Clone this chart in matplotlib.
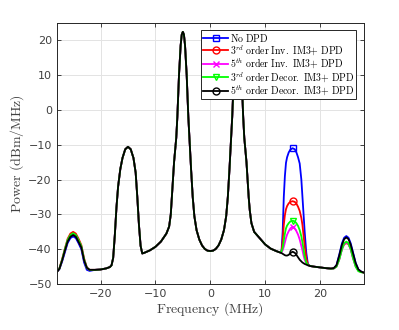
import matplotlib
matplotlib.use("Agg")
import matplotlib.pyplot as plt
import numpy as np

plt.rcParams['mathtext.fontset'] = 'cm'

# ---- data ----
freq_left = [-28, -27.5, -27, -26.5, -26, -25.5, -25, -24.5, -24, -23.5, -23, -22.5, -22]
freq_mid = [-21, -20, -19, -18.3, -18, -17.7, -17.4, -17.1, -16.8, -16.4, -16, -15.5, -15,
            -14.5, -14, -13.6, -13.3, -13, -12.7, -12.4, -12, -11, -10, -9, -8, -7.5, -7.2,
            -7, -6.6, -6.2, -6.0, -5.7, -5.4, -5.2, -5, -4.8, -4.6, -4.3, -4.0, -3.8, -3.5,
            -3.2, -2.9, -2.5, -2, -1.5, -1, -0.5, 0, 0.5, 1, 1.5, 2, 2.5, 2.9, 3.2, 3.5, 3.8,
            4.0, 4.3, 4.6, 4.8, 5, 5.2, 5.4, 5.7, 6.0, 6.2, 6.6, 7, 7.2, 7.5, 8, 9, 10, 11,
            12, 12.5]
power_mid = [-45.9, -45.8, -45.5, -45.1, -44.6, -42.5, -36, -28, -22, -17, -13.8, -11.3, -10.6,
             -11.3, -13.8, -18, -25, -33, -39, -41.2, -41.0, -40.3, -39.3, -37.8, -35.5, -33.5, -30,
             -25, -15, -8, -2, 10, 18.5, 21.6, 22.4, 21.6, 18.5, 10, -2, -8, -17,
             -25, -30.5, -34.5, -37.2, -38.9, -39.9, -40.4, -40.5, -40.4, -39.9, -38.9, -37.2, -34.5, -30.5, -25, -17, -8,
             -2, 10, 18.5, 21.6, 22.4, 21.6, 18.5, 10, -2, -8, -15, -25, -28.8, -32.5, -35.0, -36.8, -38.6, -39.8,
             -40.5, -40.8]
freq_im3 = [12.8, 13.0, 13.2, 13.4, 13.6, 13.8, 14.0, 14.3, 14.6, 15.0, 15.4, 15.7, 16.0, 16.3,
            16.6, 16.8, 17.0, 17.2, 17.5, 17.8]
freq_mid2 = [18.2, 19, 20, 21]
power_mid2 = [-44.8, -45.0, -45.2, -45.4]
freq_right = [22, 22.5, 23, 23.5, 24, 24.4, 24.8, 25.2, 25.6, 26.0, 26.5, 27, 27.5, 28]

labels = [r'$\mathrm{No\ DPD}$',
          r'$3^{rd}\mathrm{\ order\ Inv.\ IM3{+}\ DPD}$',
          r'$5^{th}\mathrm{\ order\ Inv.\ IM3{+}\ DPD}$',
          r'$3^{rd}\mathrm{\ order\ Decor.\ IM3{+}\ DPD}$',
          r'$5^{th}\mathrm{\ order\ Decor.\ IM3{+}\ DPD}$']

nodpd_left = [-46.6, -45.7, -43.5, -40.8, -38.2, -36.8, -36.3, -36.8, -38.3, -40.0, -43.8, -45.9, -46.2]
nodpd_im3 = [-40.9, -40.3, -34.8, -25, -19, -15.2, -13.6, -12.2, -11.4, -11.0, -11.3, -12.2, -13.6,
             -15.4, -20, -25, -30, -34.8, -41, -44.3]
nodpd_right = [-45.6, -45.5, -44.6, -41.6, -38.3, -36.7, -36.2, -36.7, -38.3, -40.8, -43.9, -45.8, -46.4, -46.7]

inv3_left = [-46.6, -45.5, -42.8, -39.8, -37.0, -35.5, -35.0, -35.5, -37.0, -38.8, -42.6, -45.2, -45.9]
inv3_im3 = [-40.9, -40.4, -37.5, -33, -30.2, -28.5, -27.6, -26.8, -26.4, -26.2, -26.4, -26.9, -27.8,
            -29, -31, -33, -36, -39, -42.5, -44.4]
inv3_right = [-45.6, -45.5, -44.9, -42.8, -39.8, -38.6, -38.2, -38.6, -39.8, -42.2, -44.7, -46.1, -46.5, -46.7]

inv5_left = [-46.6, -45.5, -43.1, -40.2, -37.5, -36.1, -35.6, -36.1, -37.6, -39.3, -43.0, -45.3, -45.9]
inv5_im3 = [-40.9, -40.8, -40.3, -39.3, -38, -36.8, -35.8, -34.8, -34, -33.5, -34, -34.8, -35.8,
            -37.2, -39, -40.3, -41.8, -43, -44, -44.6]
inv5_right = [-45.6, -45.5, -45.0, -43.0, -40.1, -38.5, -38.0, -38.5, -40.1, -42.5, -44.9, -46.2, -46.5, -46.7]

dec3_left = [-46.6, -45.5, -43.0, -40.0, -37.3, -35.9, -35.4, -35.9, -37.4, -39.1, -42.9, -45.3, -45.9]
dec3_im3 = [-40.9, -40.6, -39.5, -37.5, -35.5, -34, -33.2, -32.5, -32.0, -31.8, -32.0, -32.5, -33.3,
            -34.5, -36.3, -38, -40, -42, -43.8, -44.5]
dec3_right = [-45.6, -45.5, -45.0, -43.0, -40.0, -38.3, -37.8, -38.3, -40.0, -42.4, -45.0, -46.3, -46.6, -46.7]

dec5_left = [-46.6, -45.6, -43.2, -40.4, -37.8, -36.4, -35.9, -36.4, -37.9, -39.5, -43.2, -45.3, -45.9]
dec5_im3 = [-41.0, -41.1, -41.3, -41.5, -41.7, -41.8, -41.8, -41.6, -41.1, -40.7, -41.0, -41.6, -42.3,
            -43.0, -43.5, -43.8, -44.0, -44.2, -44.4, -44.6]
dec5_right = [-45.5, -45.4, -44.6, -41.9, -38.7, -37.1, -36.6, -37.1, -38.7, -41.1, -44, -45.8, -46.4, -46.7]

series = [
    (nodpd_left, nodpd_im3, nodpd_right, 'blue', 's'),
    (inv3_left, inv3_im3, inv3_right, 'red', 'o'),
    (inv5_left, inv5_im3, inv5_right, 'magenta', 'x'),
    (dec3_left, dec3_im3, dec3_right, 'lime', 'v'),
    (dec5_left, dec5_im3, dec5_right, 'black', 'o'),
]

freq = freq_left + freq_mid + freq_im3 + freq_mid2 + freq_right
mark_idx = len(freq_left) + len(freq_mid) + freq_im3.index(15.0)

fig = plt.figure(figsize=(3.99, 3.30), dpi=100)
ax = fig.add_axes([0.142, 0.139, 0.770, 0.792])

for (pl, pi, pr, col, mk), lab in zip(series, labels):
    p = pl + power_mid + pi + power_mid2 + pr
    ax.plot(freq, p, color=col, lw=1.3, marker=mk, markevery=[mark_idx],
            ms=5, mfc='none', mew=1.0, label=lab)

ax.set_xlim(-28, 28)
ax.set_ylim(-50, 25)
ax.set_xticks([-20, -10, 0, 10, 20])
ax.set_yticks([-50, -40, -30, -20, -10, 0, 10, 20])
ax.grid(True, color='#e3e3e3', lw=0.7)
ax.set_axisbelow(True)
ax.tick_params(direction='in', top=True, right=True, length=3, width=0.6,
               labelsize=8, colors='#262626', labelcolor='#404040')
for s in ax.spines.values():
    s.set_color('#262626')
    s.set_linewidth(0.7)

ax.set_xlabel(r'$\mathrm{Frequency\ (MHz)}$', fontsize=10, color='#404040', labelpad=1)
ax.set_ylabel(r'$\mathrm{Power\ (dBm/MHz)}$', fontsize=10, color='#404040', labelpad=2)

leg = ax.legend(loc='upper right', bbox_to_anchor=(0.974, 0.972), borderaxespad=0,
                fontsize=7.1, labelspacing=0.0, handlelength=2.6, handletextpad=0.15,
                borderpad=0.15, fancybox=False, framealpha=1, edgecolor='#262626')
leg.get_frame().set_linewidth(0.7)

fig.savefig('out.png', dpi=100)
